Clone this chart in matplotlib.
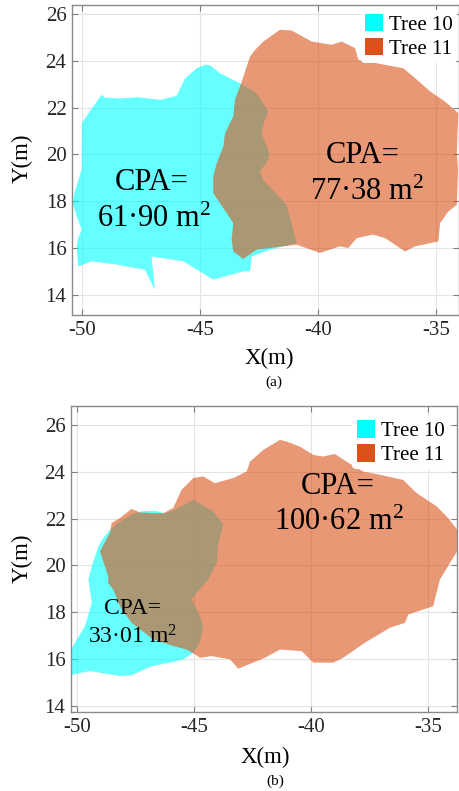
import matplotlib
matplotlib.use("Agg")
import matplotlib.pyplot as plt
from matplotlib.patches import Patch

plt.rcParams['font.family'] = ['Liberation Serif', 'DejaVu Serif']
plt.rcParams['axes.unicode_minus'] = False
plt.rcParams['mathtext.fontset'] = 'custom'
plt.rcParams['mathtext.rm'] = 'Liberation Serif'

# ---------------- data ----------------
labels = ["Tree 10", "Tree 11"]
colors = ["#00FFFF", "#D95319"]
xticks = [-50, -45, -40, -35]
yticks = [14, 16, 18, 20, 22, 24, 26]

# panel (a)
t10a_x = [-50.00, -49.17, -49.03, -48.47, -47.75, -47.67, -46.69, -45.99, -45.64, -45.14,
          -44.79, -44.58, -44.15, -43.31, -42.60, -42.32, -42.11, -42.25, -42.39, -42.06,
          -42.11, -42.46, -42.32, -41.33, -40.90, -42.03, -42.81, -42.88, -43.17, -44.44,
          -45.71, -47.05, -46.91, -47.33, -48.53, -49.59, -50.16, -50.22, -50.16, -50.01,
          -50.22, -50.39, -50.34, -50.01]
t10a_y = [21.35, 22.55, 22.43, 22.39, 22.43, 22.45, 22.33, 22.50, 23.23, 23.68,
          23.83, 23.81, 23.47, 23.04, 22.62, 22.19, 21.83, 21.48, 20.91, 20.06,
          19.77, 19.27, 18.92, 17.85, 16.22, 15.94, 15.65, 15.01, 15.01, 14.66,
          15.44, 15.65, 14.23, 15.08, 15.30, 15.44, 15.22, 16.08, 16.43, 16.79,
          17.36, 17.93, 18.28, 19.35]
t11a_x = [-43.17, -43.59, -43.66, -43.59, -43.87, -44.44, -44.44, -44.29, -44.01, -43.94,
          -43.59, -43.52, -43.23, -42.88, -42.67, -42.32, -41.61, -41.11, -40.27, -39.42,
          -39.00, -38.43, -38.29, -36.39, -35.89, -35.25, -34.62, -34.06, -34.12, -34.07,
          -34.12, -34.48, -34.83, -34.90, -35.89, -36.31, -37.16, -37.66, -38.36, -38.72,
          -39.07, -39.92, -40.90, -42.60]
t11a_y = [15.54, 15.86, 16.36, 17.07, 17.50, 18.35, 19.06, 19.63, 20.34, 20.91,
          21.62, 22.33, 23.11, 24.18, 24.46, 24.82, 25.32, 25.29, 24.82, 24.68,
          24.82, 24.54, 24.04, 23.68, 23.26, 22.69, 22.26, 21.77, 20.06, 19.35,
          17.85, 17.57, 17.07, 16.29, 16.08, 15.86, 16.43, 16.58, 16.43, 16.01,
          16.08, 15.80, 16.15, 15.94]

# panel (b)
t10b_x = [-49.10, -48.89, -48.60, -48.18, -47.62, -47.24, -46.68, -46.25, -45.82, -45.04,
          -44.19, -43.76, -43.97, -44.04, -44.40, -44.90, -45.11, -44.76, -44.62, -44.76,
          -45.04, -45.47, -46.04, -46.82, -47.68, -48.18, -49.46, -50.17, -50.30, -50.30,
          -50.10, -49.67, -49.38, -49.53, -49.38]
t10b_y = [20.81, 21.17, 21.52, 21.86, 22.20, 22.31, 22.33, 22.23, 22.38, 22.80,
          22.30, 21.74, 20.96, 20.10, 19.39, 18.82, 18.54, 17.83, 17.40, 16.69,
          16.26, 15.98, 15.84, 15.69, 15.30, 15.27, 15.48, 15.34, 15.27, 16.33,
          16.69, 17.40, 18.40, 19.39, 19.96]
t11b_x = [-49.03, -48.60, -48.53, -48.18, -47.68, -47.32, -46.75, -46.32, -45.90, -45.54,
          -45.04, -44.62, -44.12, -43.33, -42.76, -42.62, -42.05, -41.34, -41.05, -40.48,
          -39.91, -39.49, -38.99, -38.49, -37.78, -37.06, -36.07, -35.50, -34.64, -34.15,
          -33.76, -33.72, -34.07, -34.50, -34.79, -35.85, -36.00, -36.64, -37.71, -38.63,
          -39.06, -39.91, -40.41, -41.34, -41.98, -43.12, -43.47, -44.26, -44.76, -44.97,
          -45.32, -45.90, -46.75, -47.68, -48.18, -48.46, -48.68, -48.68, -48.96]
t11b_y = [20.60, 21.39, 21.81, 22.02, 22.41, 22.26, 22.23, 22.23, 22.45, 23.23,
          23.73, 23.80, 23.51, 23.73, 24.01, 24.43, 24.93, 25.36, 25.29, 25.07,
          24.72, 24.65, 24.76, 24.43, 24.01, 23.87, 23.65, 23.09, 22.52, 22.02,
          21.52, 20.67, 20.10, 19.39, 18.25, 17.90, 17.54, 17.33, 16.69, 16.05,
          15.84, 15.84, 16.33, 16.40, 16.05, 15.58, 15.98, 16.12, 16.05, 16.19,
          16.40, 16.55, 16.83, 17.54, 18.25, 18.96, 19.25, 19.53, 20.38]

cpa_a = ["61·90", "77·38"]
cpa_b = ["33·01", "100·62"]

# ---------------- figure ----------------
W, H = 459, 791
fig = plt.figure(figsize=(W / 100, H / 100), dpi=100)

ax1 = fig.add_axes([72 / W, 1 - 315 / H, 386.5 / W, 310 / H])
ax2 = fig.add_axes([71 / W, 1 - 712 / H, 386 / W, 306 / H])


def style(ax, xlim, ylim):
    ax.set_xlim(*xlim)
    ax.set_ylim(*ylim)
    ax.set_xticks(xticks)
    ax.set_yticks(yticks)
    ax.set_xticklabels([str(v) for v in xticks])
    ax.set_yticklabels([str(v) for v in yticks])
    ax.grid(True, color="#e3e3e3", linewidth=0.8)
    ax.set_axisbelow(True)
    ax.tick_params(direction="in", top=True, right=True, length=4, width=0.8,
                   color="#7f7f7f", labelsize=15, labelcolor="#262626", pad=4)
    for s in ax.spines.values():
        s.set_color("#8a8a8a")
        s.set_linewidth(1.0)


def draw(ax, x10, y10, x11, y11, anchor):
    ax.fill(x10, y10, color=colors[0], alpha=0.6, linewidth=0)
    ax.fill(x11, y11, color=colors[1], alpha=0.6, linewidth=0)
    handles = [Patch(facecolor=colors[0], edgecolor="none", label=labels[0]),
               Patch(facecolor=colors[1], edgecolor="none", label=labels[1])]
    ax.legend(handles=handles, loc="upper right", bbox_to_anchor=anchor,
              frameon=True, facecolor="white", edgecolor="none", framealpha=1,
              fontsize=15, handlelength=0.9, handleheight=0.9, handletextpad=0.25,
              labelspacing=0.15, borderpad=0.2, borderaxespad=0.0)


style(ax1, (-50.42, -34.05), (13.15, 26.38))
draw(ax1, t10a_x, t10a_y, t11a_x, t11a_y, (0.995, 0.984))
style(ax2, (-50.27, -33.77), (13.73, 26.81))
draw(ax2, t10b_x, t10b_y, t11b_x, t11b_y, (0.978, 0.967))

big = 22
ax1.text(-47.03, 18.79, "CPA=", ha="center", va="center", fontsize=big)
ax1.text(-46.95, 17.22, cpa_a[0] + r" m$\mathregular{^2}$", ha="center", va="center", fontsize=big)
ax1.text(-38.09, 19.94, "CPA=", ha="center", va="center", fontsize=big)
ax1.text(-37.92, 18.37, cpa_a[1] + r" m$\mathregular{^2}$", ha="center", va="center", fontsize=big)

ax2.text(-38.86, 23.36, "CPA=", ha="center", va="center", fontsize=big)
ax2.text(-38.84, 21.82, cpa_b[1] + r" m$\mathregular{^2}$", ha="center", va="center", fontsize=big)
ax2.text(-47.62, 18.15, "CPA=", ha="center", va="center", fontsize=17)
ax2.text(-47.64, 16.92, cpa_b[0] + r" m$\mathregular{^2}$", ha="center", va="center", fontsize=17)

# axis labels and captions
fig.text(22 / W, 1 - 158 / H, "Y(m)", rotation=90, ha="center", va="center", fontsize=16.5)
fig.text(22 / W, 1 - 558 / H, "Y(m)", rotation=90, ha="center", va="center", fontsize=16.5)
fig.text(269 / W, 1 - 358 / H, "X(m)", ha="center", va="center", fontsize=16.5)
fig.text(265 / W, 1 - 757 / H, "X(m)", ha="center", va="center", fontsize=16.5)
fig.text(274 / W, 1 - 382 / H, "(a)", ha="center", va="center", fontsize=11)
fig.text(275 / W, 1 - 781 / H, "(b)", ha="center", va="center", fontsize=11)

fig.savefig("out.png", dpi=100)
